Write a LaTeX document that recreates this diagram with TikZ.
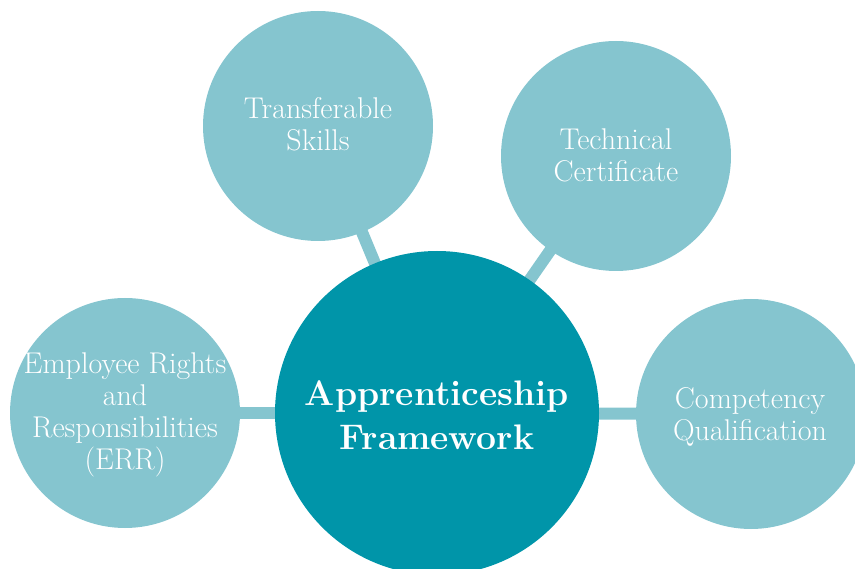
\documentclass[tikz,border=0pt]{standalone}
\begin{document}
\definecolor{lightteal}{HTML}{85C5CF}
\definecolor{darkteal}{HTML}{0095A9}
\begin{tikzpicture}[x=1pt,y=-1pt,
  outer/.style={circle,fill=lightteal,minimum size=230pt,inner sep=0pt},
  hub/.style={circle,fill=darkteal,minimum size=324pt,inner sep=0pt},
  otext/.style={text=white,align=center,inner sep=0pt,font=\fontsize{30}{32}\selectfont},
  htext/.style={text=white,align=center,inner sep=0pt,font=\fontsize{35.5}{44}\selectfont\bfseries},
  link/.style={lightteal,line width=12pt}]
\useasboundingbox (0,0) rectangle (855,569);
\clip (0,0) rectangle (855,569);
\coordinate (hc) at (437,413);
\coordinate (tc) at (318,126);
\coordinate (rc) at (616,156);
\coordinate (lc) at (125,413);
\coordinate (qc) at (751,414);
\draw[link] (hc) -- (tc);
\draw[link] (hc) -- (rc);
\draw[link] (hc) -- (lc);
\draw[link] (hc) -- (qc);
\node[outer] (t) at (tc) {};
\node[outer] (r) at (rc) {};
\node[outer] (l) at (lc) {};
\node[outer] (q) at (qc) {};
\node[hub] (h) at (hc) {};
\node[otext] (tt) at (318,124) {Transferable\\Skills};
\node[otext] (rt) at (616,155) {Technical\\Certificate};
\node[otext] (lt) at (125,415) {Employee Rights\\and\\Responsibilities\\(ERR)};
\node[otext] (qt) at (750,417) {Competency\\Qualification};
\node[htext] (ht) at (437,415) {Apprenticeship\\Framework};
\end{tikzpicture}
\end{document}
